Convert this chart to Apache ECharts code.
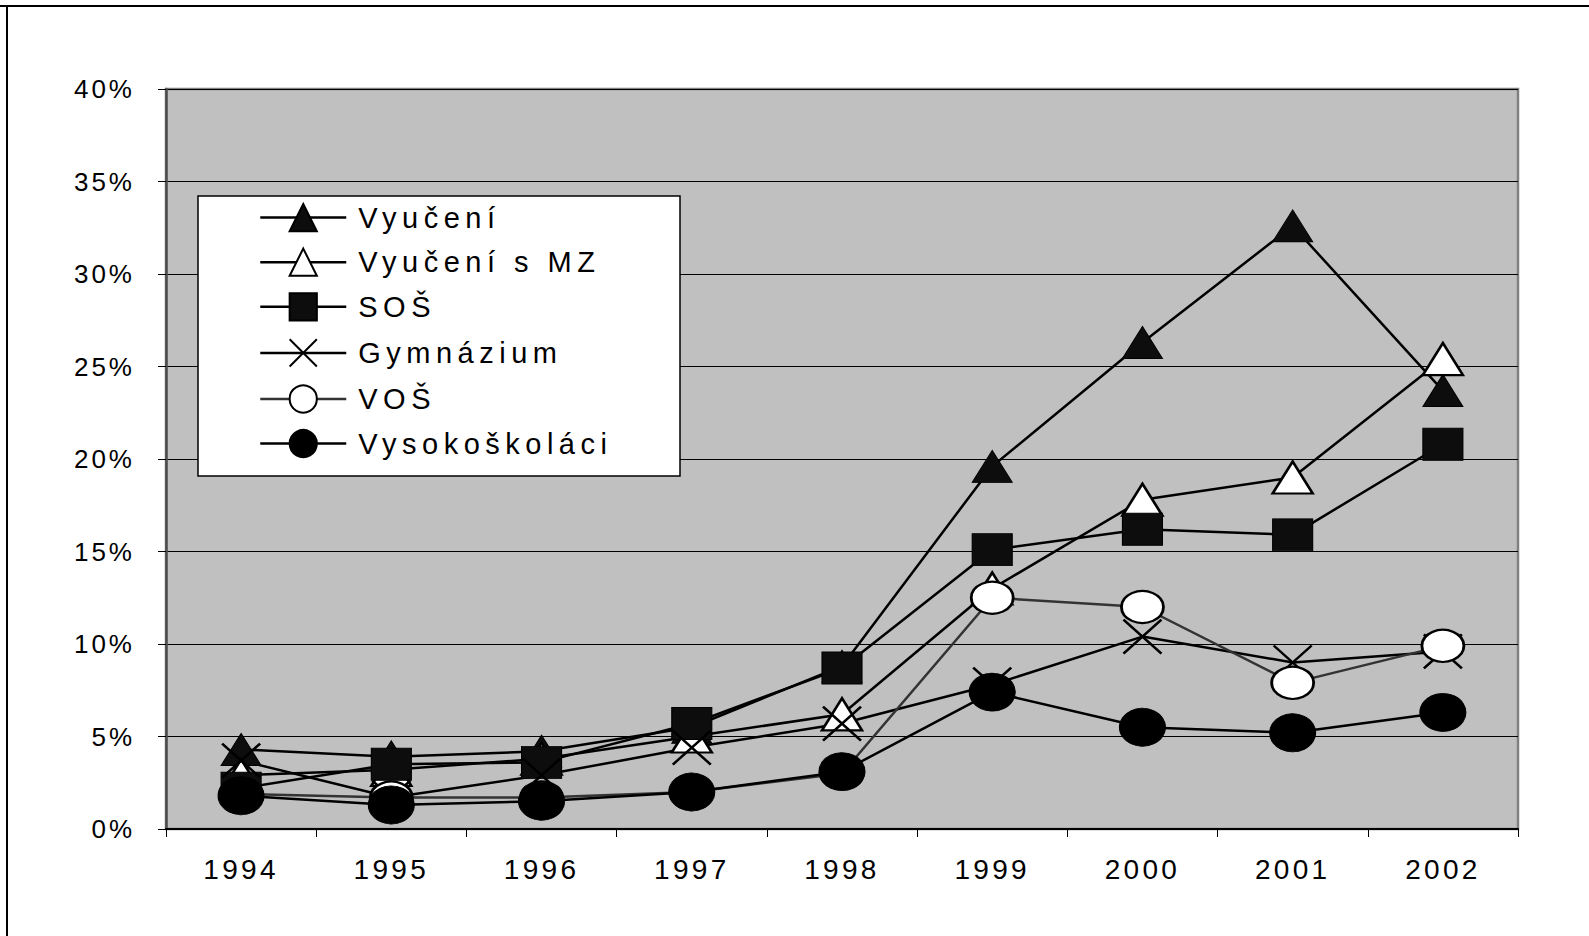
<!DOCTYPE html>
<html>
<head>
<meta charset="utf-8">
<script src="https://cdn.jsdelivr.net/npm/echarts@6.0.0/dist/echarts.min.js"></script>
<style>
  html, body { margin: 0; padding: 0; background: #fff; }
  #chart { width: 1589px; height: 936px; }
  /* Excel-like wide letter spacing */
  #chart text { letter-spacing: 3px; }
  #chart text[style*="28px"] { letter-spacing: 3.3px; }
  #chart text[style*="29px"] { letter-spacing: 5.5px; }
</style>
</head>
<body>
<div id="chart"></div>
<script>
// data (%)
const years = ['1994', '1995', '1996', '1997', '1998', '1999', '2000', '2001', '2002'];
const vyuceni = [4.3, 3.9, 4.2, 5.5, 8.8, 19.6, 26.3, 32.6, 23.7];
const vyuceniMZ = [2.9, 3.2, 3.8, 5.0, 6.2, 13.0, 17.8, 19.0, 25.4];
const sos = [2.2, 3.5, 3.6, 5.7, 8.7, 15.1, 16.2, 15.9, 20.8];
const gymnazium = [3.7, 1.7, 2.9, 4.4, 5.7, 7.8, 10.4, 9.0, 9.6];
const vos = [1.9, 1.7, 1.7, 2.0, 3.0, 12.5, 12.0, 7.9, 9.9];
const vysokoskolaci = [1.8, 1.3, 1.5, 2.0, 3.1, 7.4, 5.5, 5.2, 6.3];
const seriesNames = ['Vyučení', 'Vyučení s MZ', 'SOŠ', 'Gymnázium', 'VOŠ', 'Vysokoškoláci'];

const chart = echarts.init(document.getElementById('chart'), null, { renderer: 'svg' });

function lineSeries(name, data, symbol, size, fill, lineColor, border) {
  return {
    name: name,
    type: 'line',
    data: data,
    symbol: symbol,
    symbolSize: size,
    showAllSymbol: true,
    lineStyle: { color: lineColor, width: 2.5 },
    itemStyle: { color: fill, borderColor: '#000', borderWidth: border },
    emphasis: { disabled: true },
  };
}

const font = 'Liberation Sans';

const option = {
  animation: false,
  backgroundColor: '#fff',
  textStyle: { fontFamily: font, color: '#000' },
  grid: {
    left: 166,
    right: 71,
    top: 89,
    bottom: 107,
    show: true,
    backgroundColor: '#C0C0C0',
    borderColor: '#808080',
    borderWidth: 2.5,
  },
  xAxis: {
    type: 'category',
    data: years,
    boundaryGap: true,
    axisLine: { lineStyle: { color: '#000', width: 2 } },
    axisTick: { show: true, length: 8, inside: false, alignWithLabel: false, lineStyle: { color: '#000', width: 1 } },
    axisLabel: { fontSize: 28, fontFamily: font, color: '#000', margin: 26 },
    splitLine: { show: false },
  },
  yAxis: {
    type: 'value',
    min: 0,
    max: 40,
    interval: 5,
    axisLine: { show: true, lineStyle: { color: '#4d4d4d', width: 2.5 } },
    axisTick: { show: true, length: 8, lineStyle: { color: '#000', width: 1 } },
    axisLabel: { fontSize: 26, fontFamily: font, color: '#000', margin: 31, formatter: '{value}%' },
    splitLine: { show: true, lineStyle: { color: '#000', width: 1 } },
  },
  legend: {
    orient: 'vertical',
    left: 259,
    top: 203,
    padding: 0,
    itemWidth: 86,
    itemHeight: 34,
    itemGap: 15.4,
    selectedMode: false,
    data: seriesNames,
    lineStyle: { width: 2.5 },
    textStyle: { fontSize: 29, fontFamily: font, color: '#000', padding: [0, 0, 0, 7] },
  },
  graphic: [
    { type: 'line', shape: { x1: 0, y1: 6, x2: 1589, y2: 6 }, style: { stroke: '#000', lineWidth: 2 } },
    { type: 'line', shape: { x1: 7, y1: 6, x2: 7, y2: 936 }, style: { stroke: '#000', lineWidth: 2 } },
    {
      type: 'rect',
      z: 3,
      shape: { x: 198, y: 196, width: 482, height: 280 },
      style: { fill: '#fff', stroke: '#000', lineWidth: 1.5 },
    },
  ],
  series: [
    lineSeries(seriesNames[0], vyuceni, 'triangle', [40, 32], '#0d0d0d', '#000', 1),
    lineSeries(seriesNames[1], vyuceniMZ, 'triangle', [40, 32], '#fff', '#000', 2.5),
    lineSeries(seriesNames[2], sos, 'rect', [40, 32], '#0d0d0d', '#000', 1),
    lineSeries(seriesNames[3], gymnazium, 'path://M0,0L10,10M10,0L0,10', [38, 34], 'none', '#000', 2.5),
    lineSeries(seriesNames[4], vos, 'circle', [42, 32], '#fff', '#333', 2.5),
    lineSeries(seriesNames[5], vysokoskolaci, 'circle', [46, 38], '#000', '#000', 1),
  ],
};

chart.setOption(option);
</script>
</body>
</html>
